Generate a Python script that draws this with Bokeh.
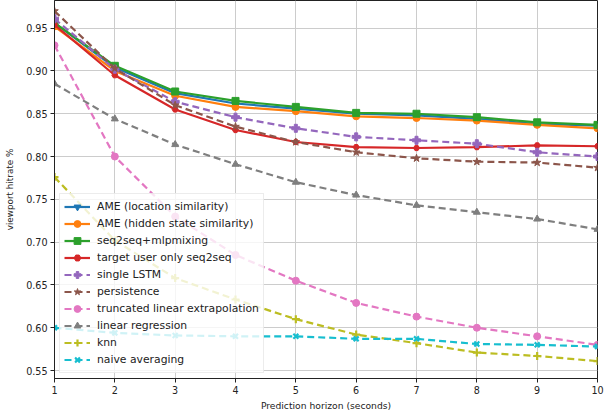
from bokeh.plotting import figure
from bokeh.models import FixedTicker, PrintfTickFormatter, Legend, LegendItem
from bokeh.embed import file_html
from bokeh.resources import INLINE

horizon = [1, 2, 3, 4, 5, 6, 7, 8, 9, 10]

ame_location = [0.956, 0.904, 0.874, 0.862, 0.856, 0.850, 0.848, 0.844, 0.838, 0.836]
ame_hidden = [0.952, 0.900, 0.871, 0.858, 0.853, 0.847, 0.845, 0.842, 0.837, 0.833]
seq2seq_mlp = [0.956, 0.906, 0.876, 0.865, 0.858, 0.851, 0.850, 0.846, 0.840, 0.837]
target_user = [0.954, 0.895, 0.855, 0.831, 0.817, 0.811, 0.810, 0.811, 0.813, 0.812]
single_lstm = [0.961, 0.902, 0.864, 0.846, 0.833, 0.823, 0.819, 0.815, 0.805, 0.800]
persistence = [0.970, 0.903, 0.860, 0.835, 0.817, 0.805, 0.798, 0.794, 0.793, 0.787]
truncated = [0.930, 0.800, 0.730, 0.685, 0.655, 0.629, 0.613, 0.600, 0.590, 0.580]
linear_reg = [0.885, 0.844, 0.814, 0.791, 0.770, 0.755, 0.743, 0.735, 0.727, 0.715]
knn = [0.776, 0.702, 0.658, 0.633, 0.610, 0.592, 0.582, 0.571, 0.567, 0.561]
naive_avg = [0.600, 0.594, 0.591, 0.590, 0.590, 0.587, 0.587, 0.581, 0.580, 0.578]

labels = ["AME (location similarity)", "AME (hidden state similarity)", "seq2seq+mlpmixing",
          "target user only seq2seq", "single LSTM", "persistence",
          "truncated linear extrapolation", "linear regression", "knn", "naive averaging"]
series = [ame_location, ame_hidden, seq2seq_mlp, target_user, single_lstm, persistence,
          truncated, linear_reg, knn, naive_avg]
colors = ["#1f77b4", "#ff7f0e", "#2ca02c", "#d62728", "#9467bd", "#8c564b",
          "#e377c2", "#7f7f7f", "#bcbd22", "#17becf"]
markers = ["inverted_triangle", "circle", "square", "hex", "plus", "star",
           "circle", "triangle", "cross", "x"]
marker_sizes = [7, 7, 7, 6, 8, 8, 7, 7, 8, 7]
dashes = ["solid"] * 4 + ["7 4"] * 6

y_ticks = [0.55, 0.60, 0.65, 0.70, 0.75, 0.80, 0.85, 0.90, 0.95]

p = figure(width=609, height=414, output_backend="svg", toolbar_location=None,
           x_range=(1, 10), y_range=(0.5407, 0.9823),
           min_border_left=54, min_border_right=12, min_border_top=0, min_border_bottom=36)

p.outline_line_color = "#222222"
p.outline_line_width = 1
p.background_fill_color = "white"

for ax in (p.xaxis[0], p.yaxis[0]):
    ax.axis_line_color = "#222222"
    ax.major_tick_line_color = "#222222"
    ax.major_tick_out = 4
    ax.major_tick_in = 0
    ax.minor_tick_line_color = None
    ax.major_label_text_font = "DejaVu Sans"
    ax.major_label_text_font_size = "9.6px"
    ax.major_label_text_color = "#222222"
    ax.axis_label_text_font = "DejaVu Sans"
    ax.axis_label_text_font_size = "9.2px"
    ax.axis_label_text_font_style = "normal"
    ax.axis_label_text_color = "#222222"

p.xaxis[0].ticker = FixedTicker(ticks=horizon)
p.yaxis[0].ticker = FixedTicker(ticks=y_ticks)
p.yaxis[0].formatter = PrintfTickFormatter(format="%.2f")
p.xaxis[0].axis_label = "Prediction horizon (seconds)"
p.yaxis[0].axis_label = "viewport hitrate %"
p.yaxis[0].axis_label_text_font_size = "8.8px"
p.xaxis[0].axis_label_standoff = 3
p.yaxis[0].axis_label_standoff = 8
p.xaxis[0].major_label_standoff = 3
p.yaxis[0].major_label_standoff = 3

p.xgrid.grid_line_color = "#cccccc"
p.ygrid.grid_line_color = "#cccccc"
p.xgrid.grid_line_width = 1
p.ygrid.grid_line_width = 1

items = []
for lab, ys, c, m, ms, d in zip(labels, series, colors, markers, marker_sizes, dashes):
    r1 = p.line(horizon, ys, line_color=c, line_width=2.2, line_dash=d)
    if m in ("cross", "x"):
        r2 = p.scatter(horizon, ys, marker=m, size=ms, line_color=c, line_width=2.2)
    else:
        r2 = p.scatter(horizon, ys, marker=m, size=ms, fill_color=c, line_color=c)
    items.append(LegendItem(label=lab, renderers=[r1, r2]))

legend = Legend(items=items, location=(5, 5), margin=0)
legend.label_text_font = "DejaVu Sans"
legend.label_text_font_size = "10.8px"
legend.label_text_color = "#222222"
legend.label_height = 17
legend.glyph_height = 17
legend.glyph_width = 26
legend.spacing = 0
legend.padding = 4
legend.label_standoff = 7
legend.border_line_color = "#d9d9d9"
legend.background_fill_alpha = 0.8
p.add_layout(legend, "center")

open("out.html", "w").write(file_html(p, INLINE))
